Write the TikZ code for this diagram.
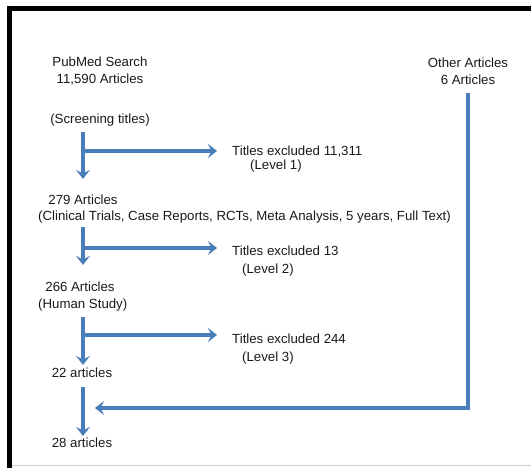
\documentclass[tikz,border=0pt]{standalone}
\usepackage{fontspec}
\setmainfont{Liberation Sans}
\usetikzlibrary{arrows.meta}
\definecolor{flowblue}{RGB}{74,126,187}
\tikzset{
  lbl/.style={inner sep=0pt, font=\fontsize{13.3}{17.5}\selectfont, align=center, text=black!90},
  flow/.style={draw=flowblue, line width=3.2bp, -{Stealth[length=9bp,width=14bp,inset=3.5bp]}},
  frame/.style={line width=5bp}
}

\begin{document}
\begin{tikzpicture}[x=1bp,y=-1bp]
    \useasboundingbox (0,0) rectangle (531,468);
    \draw [frame] (9.5,468) -- (9.5,8.5) -- (531,8.5);
    \draw [black!20,line width=1bp] (12,465.5) -- (531,465.5);

    \node (pubmed) at (100,71)[lbl] {PubMed Search\\11,590 Articles};
    \node (screen) at (100,120)[lbl] {(Screening titles)};
    \node (other) at (468,71)[lbl] {Other Articles\\6 Articles};

    \node (exc1) at (232,152)[lbl,anchor=west] {Titles excluded 11,311};
    \node (lev1) at (250,166)[lbl,anchor=west] {(Level 1)};
    \node (a279) at (83,200)[lbl] {279 Articles};
    \node (crit) at (38,217)[lbl,anchor=west] {(Clinical Trials, Case Reports, RCTs, Meta Analysis, 5 years, Full Text)};

    \node (exc2) at (232,251)[lbl,anchor=west] {Titles excluded 13};
    \node (lev2) at (242,270)[lbl,anchor=west] {(Level 2)};
    \node (a266) at (80,287)[lbl] {266 Articles};
    \node (human) at (38,305)[lbl,anchor=west] {(Human Study)};

    \node (exc3) at (232,339)[lbl,anchor=west] {Titles excluded 244};
    \node (lev3) at (242,358)[lbl,anchor=west] {(Level 3)};
    \node (a22) at (82,373)[lbl] {22 articles};
    \node (a28) at (82,443)[lbl] {28 articles};

    % spine points
    \coordinate (s1) at (83,132);
    \coordinate (b1) at (83,151);
    \coordinate (s2) at (83,227);
    \coordinate (b2) at (83,248);
    \coordinate (s3) at (83,317);
    \coordinate (b3) at (83,335);
    \coordinate (s4) at (83,387);
    \coordinate (r1) at (468,93);
    \coordinate (r2) at (468,408);
    \coordinate (r3) at (95,408);

    \draw [flow,shorten >=16bp] (s1) -- (a279.north -| s1);
    \draw [flow,shorten >=15bp] (b1) -- (exc1.west |- b1);
    \draw [flow,shorten >=17bp] (s2) -- (a266.north -| s2);
    \draw [flow,shorten >=15bp] (b2) -- (exc2.west |- b2);
    \draw [flow,shorten >=3bp] (s3) -- (a22.north -| s3);
    \draw [flow,shorten >=15bp] (b3) -- (exc3.west |- b3);
    \draw [flow,shorten >=2bp] (s4) -- (a28.north -| s4);
    \draw [flow] (r1) -- (r2) -- (r3);
\end{tikzpicture}
\end{document}
